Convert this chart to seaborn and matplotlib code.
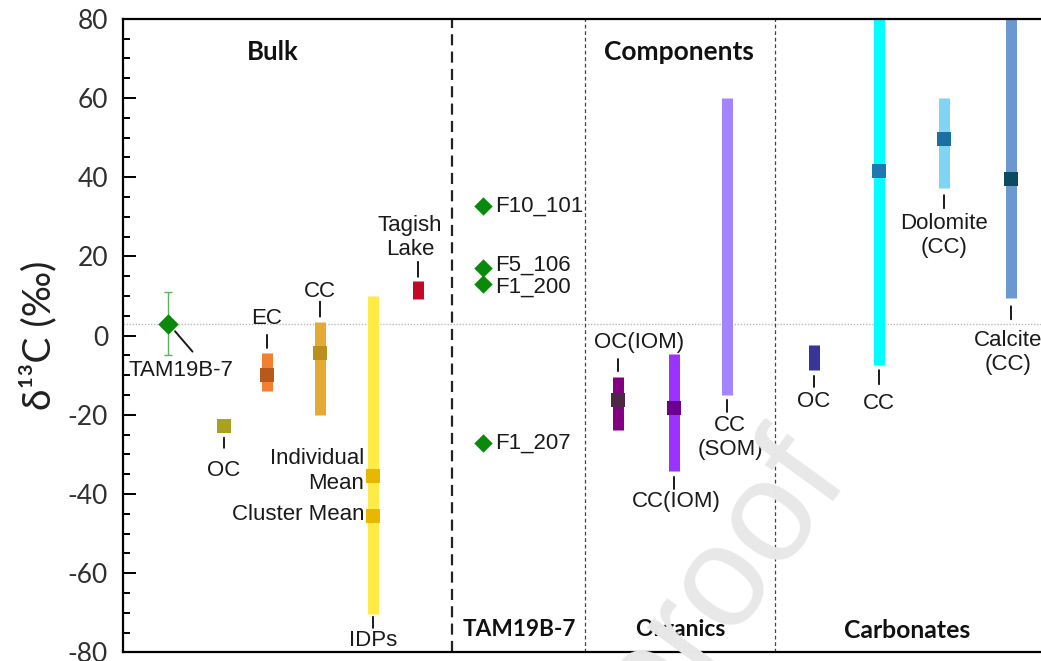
import matplotlib
matplotlib.use("Agg")
import matplotlib.pyplot as plt
import seaborn as sns
import pandas as pd
from matplotlib.ticker import MultipleLocator

# ------------------------------------------------------------------ data
tam_bulk_label = "TAM19B-7"
tam_bulk_value = 3.0
tam_bulk_err = 8.0

tam_frag_labels = ["F10_101", "F5_106", "F1_200", "F1_207"]
tam_frag_values = [32.7, 17.0, 13.0, -27.1]

range_keys = ["bulk_EC", "bulk_CC", "bulk_IDPs", "bulk_Tagish",
              "org_OC_IOM", "org_CC_IOM", "org_CC_SOM",
              "carb_OC", "carb_CC", "carb_Dol", "carb_Cal"]
range_labels = ["EC", "CC", "IDPs", "Tagish\nLake",
                "OC(IOM)", "CC(IOM)", "CC\n(SOM)",
                "OC", "CC", "Dolomite\n(CC)", "Calcite\n(CC)"]
range_low = [-14.0, -20.1, -70.3, 9.2, -23.9, -34.2, -15.0, -8.7, -7.5, 37.2, 9.4]
range_high = [-4.4, 3.5, 10.0, 13.8, -10.5, -4.7, 59.9, -2.4, 85.0, 59.9, 85.0]

mean_keys = ["bulk_OC", "bulk_EC", "bulk_CC", "bulk_IDPs_ind", "bulk_IDPs_clu",
             "org_OC_IOM", "org_CC_IOM", "carb_CC", "carb_Dol", "carb_Cal"]
mean_labels = ["OC", "EC", "CC", "Individual\nMean", "Cluster Mean",
               "OC(IOM)", "CC(IOM)", "CC", "Dolomite (CC)", "Calcite (CC)"]
mean_values = [-22.8, -10.1, -4.3, -35.4, -45.5, -16.3, -18.3, 41.6, 49.5, 39.5]

section_labels = ["Bulk", "Components", "TAM19B-7", "Organics", "Carbonates"]
y_ticks = [-80, -60, -40, -20, 0, 20, 40, 60, 80]

# ------------------------------------------------------------------ layout / style
XPOS = {"bulk_TAM": 168.5, "bulk_OC": 224, "bulk_EC": 267, "bulk_CC": 320,
        "bulk_IDPs": 373, "bulk_IDPs_ind": 373, "bulk_IDPs_clu": 373,
        "bulk_Tagish": 418, "tam_frag": 483,
        "org_OC_IOM": 618, "org_CC_IOM": 674, "org_CC_SOM": 727,
        "carb_OC": 814, "carb_CC": 879, "carb_Dol": 944, "carb_Cal": 1011}
SEPARATORS = [(451.5, "heavy"), (585, "light"), (775, "light")]

BAR_COLORS = {"bulk_EC": "#F28030", "bulk_CC": "#E6A934", "bulk_IDPs": "#FFEB45",
              "bulk_Tagish": "#C20A26", "org_OC_IOM": "#830083", "org_CC_IOM": "#9B33FF",
              "org_CC_SOM": "#A386FF", "carb_OC": "#35359A", "carb_CC": "#00FFFF",
              "carb_Dol": "#80D5F7", "carb_Cal": "#6C98D2"}
MEAN_COLORS = {"bulk_OC": "#A9A21E", "bulk_EC": "#B8581C", "bulk_CC": "#B98F1E",
               "bulk_IDPs_ind": "#E8B800", "bulk_IDPs_clu": "#E8B800",
               "org_OC_IOM": "#4C2746", "org_CC_IOM": "#6B008F",
               "carb_CC": "#1F78B2", "carb_Dol": "#1B70A2", "carb_Cal": "#0C4B5E"}

PX = 0.72  # points per pixel at 100 dpi
X0, X1 = 123, 1041
Y_TOP_PX, Y_BOT_PX = 18.7, 652.3
SANS = ["Lato", "Liberation Sans", "DejaVu Sans"]

sns.set_theme(style="white")
plt.rcParams["font.family"] = ["Liberation Sans", "DejaVu Sans"]
plt.rcParams["axes.unicode_minus"] = False

fig = plt.figure(figsize=(10.41, 6.61), dpi=100)
ax = fig.add_axes([X0 / 1041, 1 - Y_BOT_PX / 661, (X1 - X0) / 1041, (Y_BOT_PX - Y_TOP_PX) / 661])
ax.set_xlim(X0, X1)
ax.set_ylim(-80, 80)

# spines / ticks
for s in ["left", "top", "bottom"]:
    ax.spines[s].set_color("black")
    ax.spines[s].set_linewidth(1.6)
ax.spines["right"].set_visible(False)
ax.set_xticks([])
ax.set_yticks(y_ticks)
ax.yaxis.set_minor_locator(MultipleLocator(5))
ax.tick_params(axis="y", which="major", direction="in", length=13 * PX, width=1.4,
               left=True, pad=15 * PX, labelsize=19, labelcolor="#303030", color="black")
ax.tick_params(axis="y", which="minor", direction="in", length=7 * PX, width=1.4,
               left=True, color="black")
for lab in ax.get_yticklabels():
    lab.set_family(SANS)

# reference line at TAM19B-7 bulk value
ax.axhline(tam_bulk_value, color="#BBBBBB", lw=1.0, ls=(0, (1, 1.2)), zorder=1)

# section separators
for xs, kind in SEPARATORS:
    if kind == "heavy":
        ax.axvline(xs, color="#222222", lw=1.6, ls=(0, (5, 2.8)), zorder=1)
    else:
        ax.axvline(xs, color="#444444", lw=0.9, ls=(0, (3, 2.2)), zorder=1)

# ranges
rng = pd.DataFrame({"key": range_keys, "label": range_labels,
                    "low": range_low, "high": range_high})
rng["x"] = rng["key"].map(XPOS)
lc = ax.vlines(rng["x"], rng["low"], rng["high"],
               colors=[BAR_COLORS[k] for k in rng["key"]], lw=11 * PX, zorder=2)
lc.set_capstyle("butt")

# means
mn = pd.DataFrame({"key": mean_keys, "label": mean_labels, "value": mean_values})
mn["x"] = mn["key"].map(XPOS)
sns.scatterplot(data=mn, x="x", y="value", hue="key", palette=MEAN_COLORS, marker="s",
                s=(14 * PX) ** 2, linewidth=0, legend=False, ax=ax, zorder=3)

# TAM19B-7 bulk + fragments
ax.errorbar([XPOS["bulk_TAM"]], [tam_bulk_value], yerr=[tam_bulk_err], fmt="none",
            ecolor="#5DB35D", elinewidth=1.0, capsize=4 * PX, capthick=1.0, zorder=3)
frag = pd.DataFrame({"label": tam_frag_labels, "value": tam_frag_values})
frag["x"] = XPOS["tam_frag"]
sns.scatterplot(x=[XPOS["bulk_TAM"]], y=[tam_bulk_value], marker="D", color="#0A8A0A",
                s=(14.5 * PX) ** 2, linewidth=0, ax=ax, zorder=4, legend=False)
sns.scatterplot(data=frag, x="x", y="value", marker="D", color="#0A8A0A",
                s=(13 * PX) ** 2, linewidth=0, ax=ax, zorder=4, legend=False)
ax.set_xlabel("")
ax.set_ylabel("δ¹³C (‰)", fontsize=28, family=SANS, color="#202020")
ax.yaxis.set_label_coords((57 - X0) / (X1 - X0), 0.5)

LABEL_FS = 16
TXT = dict(fontsize=LABEL_FS, color="#1A1A1A")

# fragment labels
FRAG_DY = {"F10_101": 0, "F5_106": 3, "F1_200": -3, "F1_207": 0}
for _, r in frag.iterrows():
    ax.annotate(r["label"], xy=(r["x"], r["value"]), xytext=(12 * PX, FRAG_DY[r["label"]] * PX),
                textcoords="offset points", ha="left", va="center", **TXT)

# TAM19B-7 bulk label with diagonal leader
ax.annotate("", xy=(XPOS["bulk_TAM"], tam_bulk_value), xytext=(24 * PX, -28 * PX),
            textcoords="offset points",
            arrowprops=dict(arrowstyle="-", color="#1A1A1A", lw=1.4, shrinkA=0, shrinkB=10 * PX))
ax.annotate(tam_bulk_label, xy=(XPOS["bulk_TAM"], tam_bulk_value), xytext=(12 * PX, -36 * PX),
            textcoords="offset points", ha="center", va="top", **TXT)


def tick_label(x, y, text, side, gap, length, toff, dx=0):
    sgn = 1 if side == "above" else -1
    ax.annotate("", xy=(x, y), xytext=(0, sgn * (gap + length) * PX), textcoords="offset points",
                arrowprops=dict(arrowstyle="-", color="#1A1A1A", lw=1.4,
                                shrinkA=0, shrinkB=gap * PX))
    ax.annotate(text, xy=(x, y), xytext=(dx * PX, sgn * toff * PX), textcoords="offset points",
                ha="center", va="bottom" if sgn > 0 else "top", linespacing=1.2, **TXT)


# (which end, side, gap, line length, text offset, dx) in pixels
RANGE_LABEL_SPECS = {
    "bulk_EC": ("high", "above", 5, 13, 24, 0),
    "bulk_CC": ("high", "above", 5, 15, 20, 0),
    "bulk_IDPs": ("low", "below", 3, 11, 16, 0),
    "bulk_Tagish": ("high", "above", 4, 15, 21, -8),
    "org_OC_IOM": ("high", "above", 6, 12, 24, 21),
    "org_CC_IOM": ("low", "below", 6, 12, 20, 2),
    "org_CC_SOM": ("low", "below", 5, 12, 20, 3),
    "carb_OC": ("low", "below", 6, 11, 21, 0),
    "carb_CC": ("low", "below", 5, 14, 28, 0),
    "carb_Dol": ("low", "below", 7, 13, 25, 0),
    "carb_Cal": ("low", "below", 8, 13, 32, -3),
}
for _, r in rng.iterrows():
    end, side, gap, length, toff, dx = RANGE_LABEL_SPECS[r["key"]]
    tick_label(r["x"], r[end], r["label"], side, gap, length, toff, dx)

# bulk OC (mean only)
oc = mn[mn["key"] == "bulk_OC"].iloc[0]
tick_label(oc["x"], oc["value"], oc["label"], "below", 12, 10, 34)

# IDP mean labels
for key in ["bulk_IDPs_ind", "bulk_IDPs_clu"]:
    r = mn[mn["key"] == key].iloc[0]
    if key == "bulk_IDPs_ind":
        ax.annotate(r["label"], xy=(r["x"], r["value"]), xytext=(-9 * PX, 28 * PX),
                    textcoords="offset points", ha="right", va="top", linespacing=1.3, **TXT)
    else:
        ax.annotate(r["label"], xy=(r["x"], r["value"]), xytext=(-9 * PX, 1 * PX),
                    textcoords="offset points", ha="right", va="center", **TXT)


# section headers
def ax_xy(px, py):
    return (px - X0) / (X1 - X0), (Y_BOT_PX - py) / (Y_BOT_PX - Y_TOP_PX)


HDR_POS = [(273, 52), (679, 52), (519, 630), (680, 630), (907, 630)]
HDR_SIZE = [18.5, 19, 16.3, 16.5, 17.8]
for txt, (px, py), fs in zip(section_labels, HDR_POS, HDR_SIZE):
    ax.text(*ax_xy(px, py), txt, fontsize=fs, fontweight="bold", color="#111111",
            family=SANS, ha="center", va="center", transform=ax.transAxes)

# watermark
fig.text(720 / 1041, 1 - 582 / 661, "proof", fontsize=104, color="#E8E8E8", rotation=54,
         ha="center", va="center", zorder=10, family="Liberation Sans")

fig.savefig("out.png", dpi=100)
